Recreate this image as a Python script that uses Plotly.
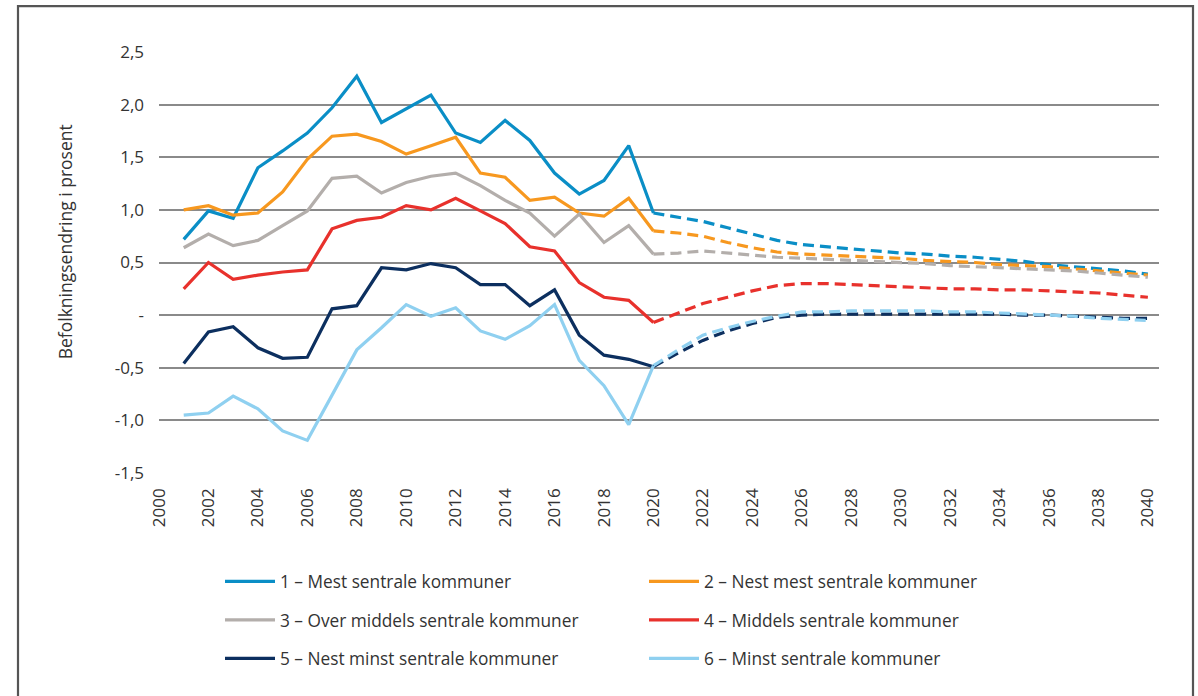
import plotly.graph_objects as go

hist_years = list(range(2001, 2021))
proj_years = list(range(2020, 2041))

names = [
    "1 – Mest sentrale kommuner",
    "2 – Nest mest sentrale kommuner",
    "3 – Over middels sentrale kommuner",
    "4 – Middels sentrale kommuner",
    "5 – Nest minst sentrale kommuner",
    "6 – Minst sentrale kommuner",
]
colors = ["#0a8ec6", "#f7981f", "#b3aeab", "#e8312c", "#0c2f5f", "#8fd0f0"]

hist_1 = [0.72, 0.99, 0.92, 1.40, 1.56, 1.73, 1.97, 2.27, 1.83, 1.96, 2.09, 1.73, 1.64, 1.85, 1.66, 1.35, 1.15, 1.28, 1.61, 0.97]
hist_2 = [1.00, 1.04, 0.95, 0.97, 1.17, 1.48, 1.70, 1.72, 1.65, 1.53, 1.61, 1.69, 1.35, 1.31, 1.09, 1.12, 0.97, 0.94, 1.11, 0.80]
hist_3 = [0.64, 0.77, 0.66, 0.71, 0.85, 0.99, 1.30, 1.32, 1.16, 1.26, 1.32, 1.35, 1.23, 1.09, 0.97, 0.75, 0.96, 0.69, 0.85, 0.58]
hist_4 = [0.25, 0.50, 0.34, 0.38, 0.41, 0.43, 0.82, 0.90, 0.93, 1.04, 1.00, 1.11, 0.99, 0.87, 0.65, 0.61, 0.31, 0.17, 0.14, -0.07]
hist_5 = [-0.46, -0.16, -0.11, -0.31, -0.41, -0.40, 0.06, 0.09, 0.45, 0.43, 0.49, 0.45, 0.29, 0.29, 0.09, 0.24, -0.19, -0.38, -0.42, -0.49]
hist_6 = [-0.95, -0.93, -0.77, -0.89, -1.10, -1.19, -0.76, -0.33, -0.12, 0.10, -0.01, 0.07, -0.15, -0.23, -0.10, 0.10, -0.43, -0.67, -1.04, -0.48]

proj_1 = [0.97, 0.93, 0.89, 0.83, 0.77, 0.71, 0.67, 0.65, 0.63, 0.61, 0.59, 0.58, 0.56, 0.55, 0.53, 0.51, 0.48, 0.46, 0.44, 0.42, 0.39]
proj_2 = [0.80, 0.78, 0.75, 0.69, 0.64, 0.60, 0.58, 0.57, 0.56, 0.55, 0.54, 0.52, 0.51, 0.50, 0.48, 0.47, 0.46, 0.44, 0.42, 0.40, 0.38]
proj_3 = [0.58, 0.59, 0.61, 0.59, 0.57, 0.55, 0.54, 0.53, 0.52, 0.51, 0.50, 0.49, 0.47, 0.46, 0.45, 0.44, 0.43, 0.42, 0.40, 0.38, 0.36]
proj_4 = [-0.07, 0.02, 0.11, 0.17, 0.23, 0.28, 0.30, 0.30, 0.29, 0.28, 0.27, 0.26, 0.25, 0.25, 0.24, 0.24, 0.23, 0.22, 0.21, 0.19, 0.17]
proj_5 = [-0.49, -0.36, -0.24, -0.15, -0.08, -0.02, 0.00, 0.01, 0.01, 0.01, 0.01, 0.01, 0.01, 0.01, 0.01, 0.00, 0.00, -0.01, -0.02, -0.03, -0.03]
proj_6 = [-0.48, -0.33, -0.19, -0.12, -0.06, -0.01, 0.03, 0.03, 0.04, 0.04, 0.04, 0.04, 0.03, 0.03, 0.02, 0.01, 0.00, -0.01, -0.03, -0.04, -0.05]

hist = [hist_1, hist_2, hist_3, hist_4, hist_5, hist_6]
proj = [proj_1, proj_2, proj_3, proj_4, proj_5, proj_6]

y_tickvals = [-1.5, -1.0, -0.5, 0, 0.5, 1.0, 1.5, 2.0, 2.5]
y_ticktext = ["-1,5", "-1,0", "-0,5", "-", "0,5", "1,0", "1,5", "2,0", "2,5"]
x_tickvals = list(range(2000, 2041, 2))

FONT = "Open Sans"
TXT = "#333333"

fig = go.Figure()
for i in range(6):
    leg = "legend" if i % 2 == 0 else "legend2"
    fig.add_trace(go.Scatter(
        x=proj_years, y=proj[i], mode="lines", name=names[i],
        line=dict(color=colors[i], width=3.2, dash="11px,6px"),
        legendgroup=f"g{i}", showlegend=False, legend=leg, hoverinfo="skip"))
for i in range(6):
    leg = "legend" if i % 2 == 0 else "legend2"
    fig.add_trace(go.Scatter(
        x=hist_years, y=hist[i], mode="lines", name=names[i],
        line=dict(color=colors[i], width=3.2),
        legendgroup=f"g{i}", showlegend=True, legend=leg))

legend_common = dict(
    orientation="v", yanchor="top", xanchor="left",
    font=dict(family=FONT, size=17.3, color=TXT),
    bgcolor="rgba(0,0,0,0)", itemwidth=50, tracegroupgap=13,
    traceorder="grouped",
)

fig.update_layout(
    width=1198, height=696,
    margin=dict(l=159, r=39, t=52, b=223),
    paper_bgcolor="white", plot_bgcolor="white",
    font=dict(family=FONT, size=17, color=TXT),
    showlegend=True,
    legend=dict(x=0.061, y=-0.2155, **legend_common),
    legend2=dict(x=0.485, y=-0.2155, **legend_common),
    xaxis=dict(
        range=[2000, 2040.45], tickmode="array", tickvals=x_tickvals,
        ticktext=[str(v) for v in x_tickvals], tickangle=-90,
        showgrid=False, zeroline=False, showline=False, ticks="",
        ticklabelstandoff=11, tickfont=dict(family=FONT, size=17, color=TXT),
    ),
    yaxis=dict(
        range=[-1.5, 2.5], tickmode="array", tickvals=y_tickvals, ticktext=y_ticktext,
        showgrid=True, gridcolor="#8a8a8a", gridwidth=1.6, zeroline=False,
        showline=False, ticks="", ticklabelstandoff=14,
        tickfont=dict(family=FONT, size=17, color=TXT),
    ),
    annotations=[dict(
        text="Befolkningsendring i prosent", xref="paper", yref="paper",
        x=-0.094, y=0.548, xanchor="center", yanchor="middle", textangle=-90,
        showarrow=False, font=dict(family=FONT, size=17.5, color=TXT),
    )],
    shapes=[dict(
        type="path", xref="paper", yref="paper",
        path="M -0.141,-0.7 L -0.141,1.109 L 1.034,1.109 L 1.034,-0.7",
        line=dict(color="#555555", width=2.2), layer="above",
    )],
)

fig.write_html(
    "out.html",
    config={"displayModeBar": False},
    post_script="document.body.style.margin='0';document.body.style.overflow='hidden';",
)
